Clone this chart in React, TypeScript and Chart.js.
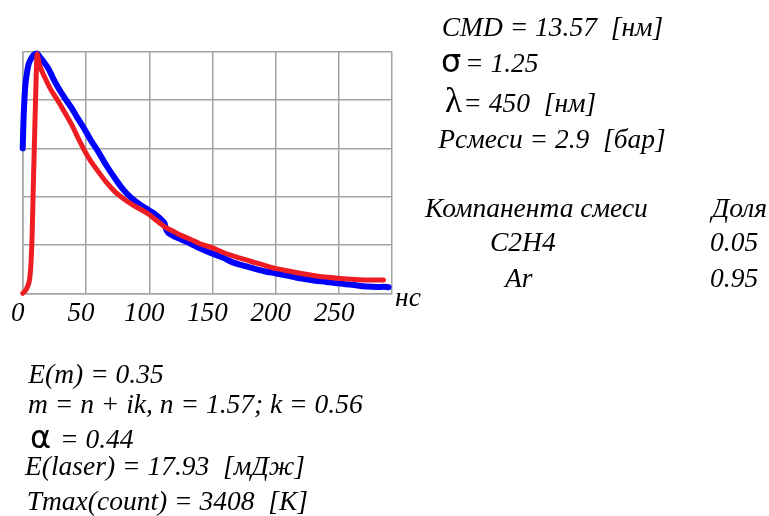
import React, { useEffect, useRef } from "react";
import { Chart, registerables } from "chart.js";

Chart.register(...registerables);

// ---- data ----
const xTickValues = [0, 50, 100, 150, 200, 250];
const xMax = 291.5;
const yTickValues = [0, 0.2, 0.4, 0.6, 0.8, 1];

// measured signal (blue), normalised
const blueTimes = [
  0, 0.6, 1.9, 3, 4.5, 6.5, 8.5, 11.1, 14, 17, 20.3, 24, 28.2, 33, 38.7, 44, 49.2, 54,
  59.7, 66, 72.9, 79, 86.1, 92, 99.3, 104, 109.9, 112, 113.5, 117.8, 124, 132, 140, 149,
  158, 166, 175, 185, 192.6, 199.4, 210, 219, 230, 240, 249, 260, 271.5, 280, 284.7, 289,
];
const blueValues = [
  0.6, 0.71, 0.85, 0.9, 0.945, 0.97, 0.986, 0.993, 0.975, 0.955, 0.93, 0.89, 0.85, 0.81,
  0.766, 0.72, 0.676, 0.632, 0.586, 0.53, 0.476, 0.432, 0.393, 0.37, 0.345, 0.33, 0.303,
  0.29, 0.262, 0.241, 0.226, 0.207, 0.186, 0.166, 0.148, 0.128, 0.114, 0.099, 0.089, 0.083,
  0.072, 0.062, 0.053, 0.047, 0.041, 0.035, 0.028, 0.026, 0.027, 0.025,
];

// model signal (red), normalised
const redTimes = [
  0, 2, 4, 5.5, 6.5, 7.5, 8.5, 9.5, 10.5, 11.4, 13, 17.8, 22, 28.3, 33, 38.8, 44, 49.3, 54,
  59.8, 66, 73, 80, 86.2, 93, 99.3, 106, 113.7, 117.7, 125, 132, 140, 149, 158, 166, 175,
  185, 192.6, 199.4, 210, 219, 232, 240, 249, 260, 271.5, 285,
];
const redValues = [
  0, 0.01, 0.03, 0.06, 0.12, 0.25, 0.47, 0.67, 0.87, 0.99, 0.95, 0.89, 0.845, 0.793, 0.75,
  0.697, 0.64, 0.586, 0.545, 0.503, 0.46, 0.42, 0.39, 0.368, 0.348, 0.328, 0.3, 0.27, 0.26,
  0.24, 0.225, 0.205, 0.19, 0.17, 0.155, 0.14, 0.125, 0.113, 0.103, 0.092, 0.083, 0.072,
  0.067, 0.062, 0.058, 0.055, 0.055,
];

const BLUE = "#0000ff";
const RED = "#ee1d23";
const GRID = "#a4a4a4";
const SERIF = "'Liberation Serif', 'Times New Roman', serif";
const SANS = "'DejaVu Sans', sans-serif";

type LabelProps = {
  x: number;
  baseline: number;
  size?: number;
  italic?: boolean;
  family?: string;
  children: React.ReactNode;
};

function Label({ x, baseline, size = 27.5, italic = true, family = SERIF, children }: LabelProps) {
  return (
    <div
      style={{
        position: "absolute",
        left: x,
        top: baseline - 0.84 * size,
        fontFamily: family,
        fontStyle: italic ? "italic" : "normal",
        fontSize: size,
        lineHeight: 1,
        whiteSpace: "pre",
        color: "#000",
      }}
    >
      {children}
    </div>
  );
}

export default function App() {
  const ref = useRef<HTMLCanvasElement>(null);

  useEffect(() => {
    const canvas = ref.current;
    if (!canvas) return;
    const chart = new Chart(canvas, {
      type: "line",
      data: {
        datasets: [
          {
            label: "model",
            data: redTimes.map((x, i) => ({ x, y: redValues[i] })),
            borderColor: RED,
            borderWidth: 5,
            pointRadius: 0,
            cubicInterpolationMode: "monotone",
            borderJoinStyle: "round",
            borderCapStyle: "round",
            clip: false,
            order: 0,
          },
          {
            label: "measured",
            data: blueTimes.map((x, i) => ({ x, y: blueValues[i] })),
            borderColor: BLUE,
            borderWidth: 6,
            pointRadius: 0,
            cubicInterpolationMode: "monotone",
            borderJoinStyle: "round",
            borderCapStyle: "round",
            clip: false,
            order: 1,
          },
        ],
      },
      options: {
        responsive: false,
        animation: false,
        events: [],
        layout: { padding: { left: 22.7, top: 51.7, right: 377.3, bottom: 182.7 } },
        plugins: { legend: { display: false }, tooltip: { enabled: false } },
        scales: {
          x: {
            type: "linear",
            min: 0,
            max: xMax,
            afterBuildTicks: (s: any) => {
              s.ticks = [...xTickValues, xMax].map((v) => ({ value: v }));
            },
            afterFit: (s: any) => {
              s.height = 40;
            },
            grid: { color: GRID, lineWidth: 1.5, drawTicks: false },
            border: { color: GRID, width: 1.5 },
            ticks: {
              callback: (v: any) => (xTickValues.includes(v) ? String(v) : ""),
              font: { family: SERIF, style: "italic", size: 27 },
              color: "#000",
              padding: 4,
              labelOffset: -5,
              maxRotation: 0,
              autoSkip: false,
            },
          },
          y: {
            type: "linear",
            min: 0,
            max: 1,
            afterBuildTicks: (s: any) => {
              s.ticks = yTickValues.map((v) => ({ value: v }));
            },
            afterFit: (s: any) => {
              s.width = 0;
            },
            grid: { color: GRID, lineWidth: 1.5, drawTicks: false },
            border: { color: GRID, width: 1.5 },
            ticks: { display: false },
          },
        },
      },
    });
    return () => chart.destroy();
  }, []);

  return (
    <div
      style={{
        position: "absolute",
        left: 0,
        top: 0,
        width: 769,
        height: 516,
        background: "#fff",
        overflow: "hidden",
      }}
    >
      <canvas
        ref={ref}
        width={769}
        height={516}
        style={{ position: "absolute", left: 0, top: 0, width: 769, height: 516 }}
      />
      <Label x={395} baseline={306}>нс</Label>

      <Label x={441.7} baseline={36}>{"CMD = 13.57  [нм]"}</Label>
      <Label x={441} baseline={71.7} size={32} italic={false} family={SANS}>σ</Label>
      <Label x={465} baseline={71.7}>= 1.25</Label>
      <Label x={445} baseline={112.5} size={35} italic={false}>λ</Label>
      <Label x={463.3} baseline={111.7}>{"= 450  [нм]"}</Label>
      <Label x={438.3} baseline={148.3}>{"Pсмеси = 2.9  [бар]"}</Label>

      <Label x={425} baseline={216.7}>Компанента смеси</Label>
      <Label x={711.7} baseline={216.7}>Доля</Label>
      <Label x={490} baseline={250.7}>C2H4</Label>
      <Label x={710} baseline={250.7}>0.05</Label>
      <Label x={505} baseline={286.7}>Ar</Label>
      <Label x={710} baseline={286.7}>0.95</Label>

      <Label x={28.3} baseline={382.7}>E(m) = 0.35</Label>
      <Label x={28} baseline={412.7}>{"m = n + ik, n = 1.57; k = 0.56"}</Label>
      <Label x={30} baseline={448.3} size={32} italic={false} family={SANS}>α</Label>
      <Label x={60} baseline={448.3}>= 0.44</Label>
      <Label x={25} baseline={475}>{"E(laser) = 17.93  [мДж]"}</Label>
      <Label x={26.7} baseline={510}>{"Tmax(count) = 3408  [K]"}</Label>
    </div>
  );
}
